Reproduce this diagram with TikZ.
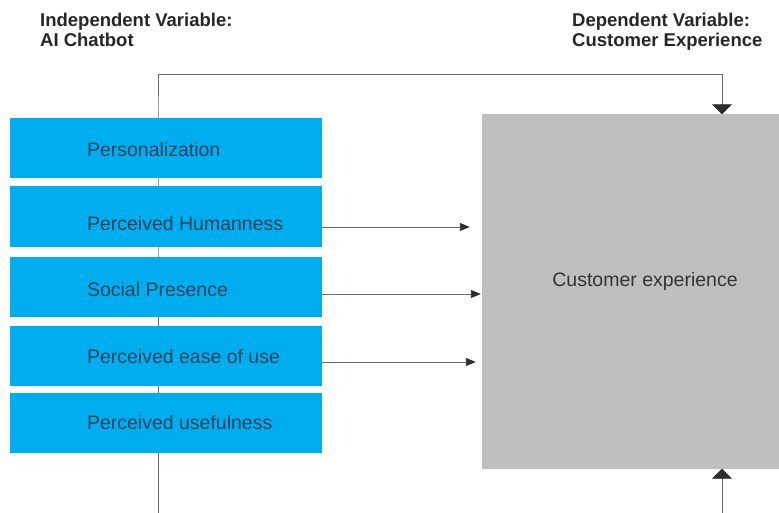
\documentclass[tikz,border=0pt]{standalone}
\usepackage{fontspec}
\setmainfont{Liberation Sans}
\usetikzlibrary{arrows.meta,positioning,backgrounds}
\definecolor{chatblue}{RGB}{0,174,239}
\definecolor{expgray}{RGB}{190,191,193}
\definecolor{labelink}{RGB}{38,66,92}
\definecolor{wiregray}{RGB}{105,105,105}
\definecolor{tipgray}{RGB}{45,45,45}

\begin{document}
\begin{tikzpicture}[x=1pt,y=-1pt,
  factor/.style={fill=chatblue,minimum width=312pt,minimum height=60pt,inner sep=0pt},
  factext/.style={anchor=base west,text=labelink,inner sep=0pt,font=\fontsize{19.5}{22}\selectfont},
  heading/.style={anchor=north west,align=left,inner sep=0pt,text=black!85,font=\bfseries\fontsize{18.5}{20}\selectfont},
  wire/.style={draw=wiregray,line width=0.9pt},
  smalltip/.style={wire,-{Triangle[length=10pt,width=8pt,color=tipgray]}},
  bigtip/.style={wire,-{Triangle[length=10pt,width=20pt,color=tipgray]}}]
\useasboundingbox (0,0) rectangle (779,513);
\coordinate (bot) at (0,513);

\node[heading] (ivhead) at (40,13) {Independent Variable:\\AI Chatbot};
\node[heading] (dvhead) at (572,13) {Dependent Variable:\\Customer Experience};

\def\factors{1/148/8.5/{Personalization},2/216.5/14.5/{Perceived Humanness},3/287/9/{Social Presence},4/356/7/{Perceived ease of use},5/422.5/7/{Perceived usefulness}}
\foreach \i / \yc / \dy / \element in \factors {
  \node [factor] (f\i) at (166,\yc) {};
  \node [factext] (t\i) at ([xshift=77pt,yshift=-\dy pt]f\i.west) {\element};
}

\node[fill=expgray,minimum width=297pt,minimum height=354pt,inner sep=0pt] (cx) at (630.5,291.5) {};
\node[anchor=base,inner sep=0pt,text=black!80,font=\fontsize{19.5}{22}\selectfont] (cxtext) at (645,286) {Customer experience};

\begin{scope}[on background layer]
\draw[bigtip] ([xshift=-8pt]f5.south |- bot) -- ([xshift=-8pt]f1.north) -- ++(0,-43) -| ([xshift=91.5pt]cx.north);
\end{scope}
\draw[bigtip] ([xshift=91.5pt]cx.south |- bot) -- ([xshift=91.5pt]cx.south);

\foreach \i / \dy / \gap in {2/10.5/12pt,3/7/1pt,4/6/6pt}
  \draw[smalltip,shorten >=\gap] ([yshift=-\dy pt]f\i.east) -- ([yshift=-\dy pt]f\i.east -| cx.west);
\end{tikzpicture}
\end{document}
